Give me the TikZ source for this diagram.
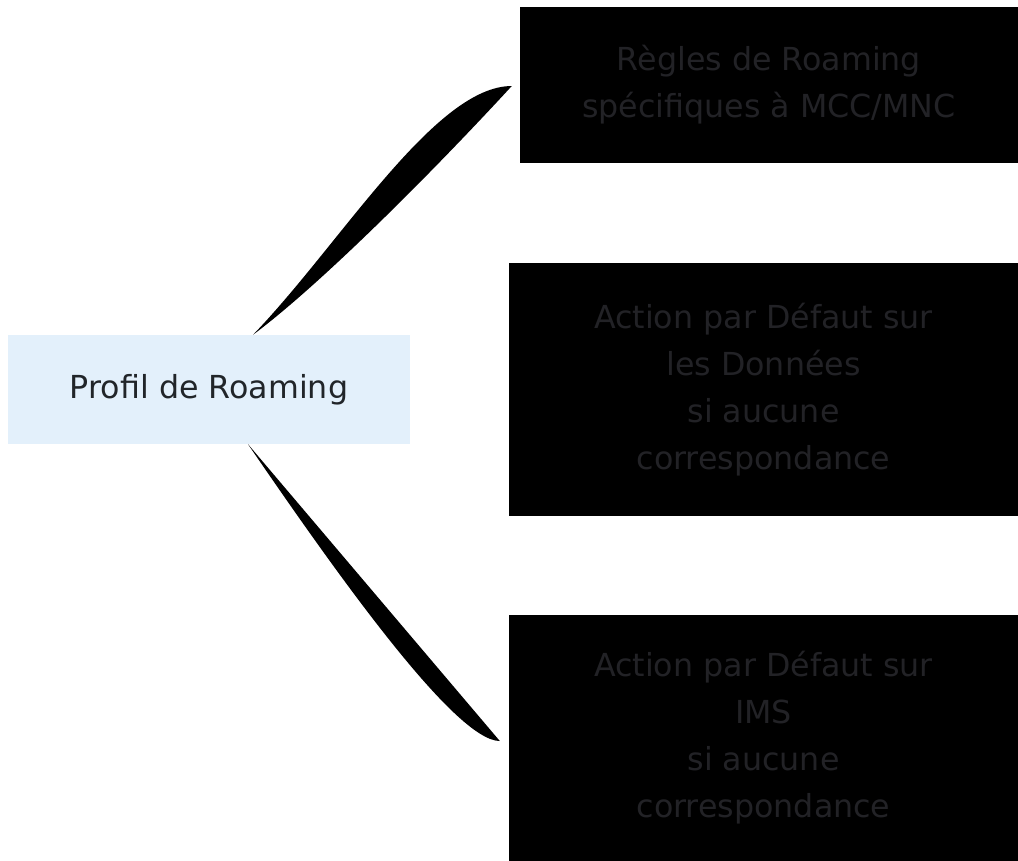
\documentclass[tikz,border=0pt]{standalone}
\usepackage{fontspec}
\setmainfont{DejaVu Sans}
\usetikzlibrary{calc}
\definecolor{centerfill}{RGB}{227,240,251}
\definecolor{centertext}{RGB}{33,37,41}
\definecolor{darktext}{RGB}{34,34,38}
\tikzset{
  basebox/.style={rectangle, inner sep=0pt, align=center,
    font=\fontsize{31.7bp}{47bp}\selectfont},
  centerbox/.style={basebox, fill=centerfill, text=centertext},
  leafbox/.style={basebox, fill=black, text=darktext},
  branch/.style={fill=black, draw=none}
}
\begin{document}
\begin{tikzpicture}[x=1bp,y=-1bp]
\useasboundingbox (0,0) rectangle (1018,861);
\node[centerbox, minimum width=402bp, minimum height=109bp] (c) at (209,389.5) {Profil de Roaming};
\node[leafbox, minimum width=498bp, minimum height=156bp] (r1) at (769,85) {Règles de Roaming\\spécifiques à MCC/MNC};
\node[leafbox, minimum width=509bp, minimum height=253bp] (r2) at (763.5,389.5) {Action par Défaut sur\\les Données\\si aucune\\correspondance};
\node[leafbox, minimum width=509bp, minimum height=246bp] (r3) at (763.5,738) {Action par Défaut sur\\IMS\\si aucune\\correspondance};
\coordinate (t1) at ($(c.north)+(44,0)$);
\coordinate (e1) at ($(r1.west)+(-8,1)$);
\coordinate (t2) at ($(c.south)+(39,0)$);
\coordinate (e2) at ($(r3.west)+(-9,3)$);
\fill[branch] (t1) .. controls +(87,-90) and +(-77,0) .. (e1)
  .. controls +(-82,89) and +(67,-50) .. (t1) -- cycle;
\fill[branch] (t2) -- (e2) .. controls +(-45,0) and +(87,127) .. (t2) -- cycle;
\end{tikzpicture}
\end{document}
